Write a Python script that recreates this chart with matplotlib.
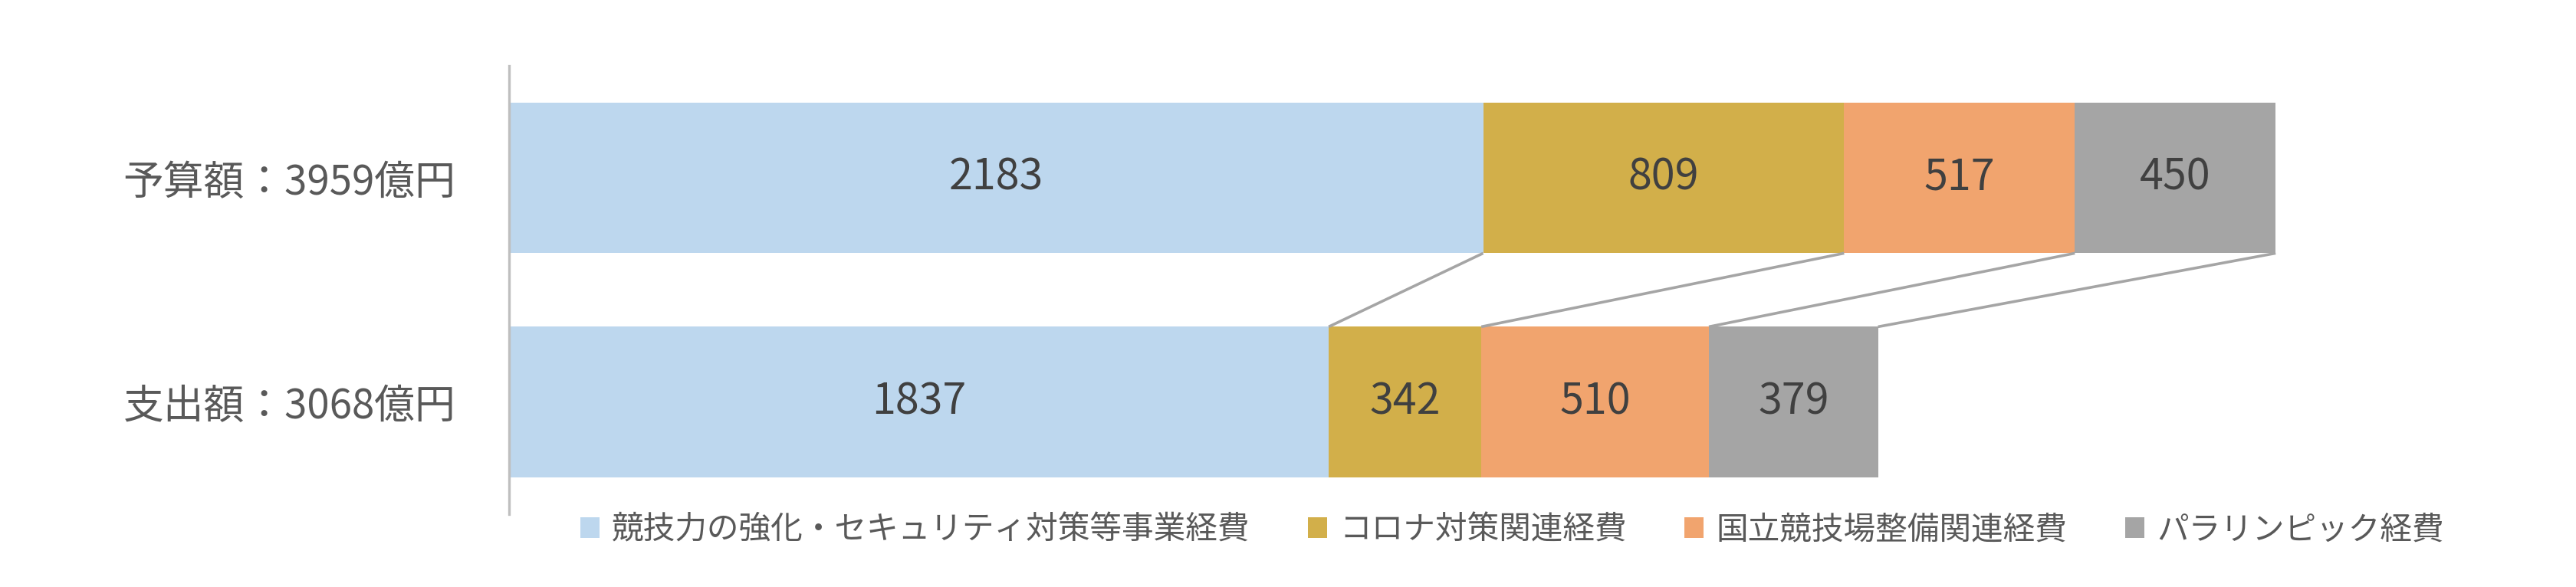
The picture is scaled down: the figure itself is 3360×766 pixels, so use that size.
import matplotlib
matplotlib.use("Agg")
import matplotlib.pyplot as plt
from matplotlib.patches import Patch

plt.rcParams['font.family'] = ['Noto Sans CJK JP', 'DejaVu Sans']

categories = ["予算額：3959億円", "支出額：3068億円"]
series_names = ["競技力の強化・セキュリティ対策等事業経費", "コロナ対策関連経費",
                "国立競技場整備関連経費", "パラリンピック経費"]
budget = [2183, 809, 517, 450]
spent = [1837, 342, 510, 379]
colors = ["#BDD7EE", "#D2AF4A", "#F1A46E", "#A5A5A5"]

text_color = "#595959"
fig = plt.figure(figsize=(16.8, 3.83), dpi=200)
ax = fig.add_axes([0.1976, 0.124, 0.6929, 0.764])

bar_h = 0.672
rows = [budget, spent]
for yi, vals in enumerate(rows):
    left = 0
    for v, c in zip(vals, colors):
        ax.barh(yi, v, left=left, height=bar_h, color=c, edgecolor='none')
        ax.text(left + v / 2, yi, str(v), ha='center', va='center',
                fontsize=20, color="#404040")
        left += v

# connector lines
cb = 0
cs = 0
for b, s in zip(budget, spent):
    cb += b
    cs += s
    ax.plot([cb, cs], [0 + bar_h / 2, 1 - bar_h / 2], color="#A5A5A5",
            lw=1.3, solid_capstyle='butt')

ax.set_xlim(0, 4000)
ax.set_ylim(1.5, -0.5)
ax.set_yticks([0, 1])
ax.set_yticklabels(categories, fontsize=19, color=text_color)
ax.tick_params(axis='y', length=0, pad=25)
ax.set_xticks([])
for sp in ['top', 'right', 'bottom']:
    ax.spines[sp].set_visible(False)
ax.spines['left'].set_color('#BFBFBF')
ax.spines['left'].set_linewidth(1.2)

handles = [Patch(facecolor=c, edgecolor='none') for c in colors]
fig.legend(handles, series_names, loc='center', bbox_to_anchor=(0.587, 0.097),
           ncol=4, frameon=False, fontsize=15, labelcolor=text_color,
           handlelength=0.6, handleheight=0.6, handletextpad=0.4,
           columnspacing=1.8)

fig.savefig("out.png", dpi=200, facecolor='white')
